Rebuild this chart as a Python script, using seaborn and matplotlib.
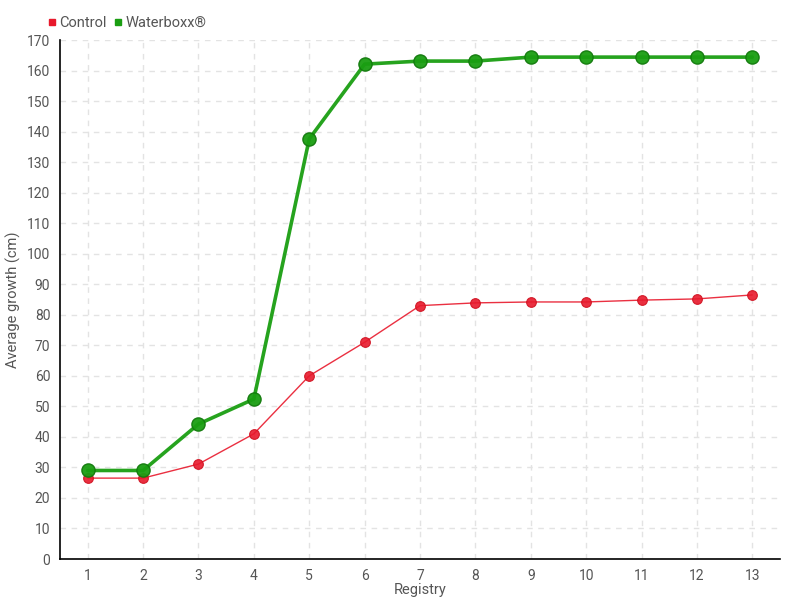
import seaborn as sns
import pandas as pd
import matplotlib.pyplot as plt
from matplotlib.lines import Line2D

registry = list(range(1, 14))
control = [26.5, 26.5, 31.1, 41, 60, 71, 83, 83.9, 84.2, 84.2, 84.8, 85.2, 86.5]
waterboxx = [29, 29, 44.2, 52.4, 137.6, 162.1, 163.1, 163.1, 164.4, 164.4, 164.4, 164.4, 164.4]

red = '#e8192c'
green = '#1a9e12'
text_col = '#555555'

sns.set_style("white")
plt.rcParams['font.family'] = ['Roboto', 'DejaVu Sans']

df = pd.DataFrame({'registry': registry, 'Control': control, 'Waterboxx': waterboxx})

fig = plt.figure(figsize=(8, 6), dpi=100)
ax = fig.add_axes([0.075, 0.0683, 0.9, 0.865])

sns.lineplot(x='registry', y='Control', data=df, ax=ax, color=red, linewidth=1,
             marker='o', markersize=7, markeredgecolor='#d0101f', markeredgewidth=0.8, alpha=0.9)
sns.lineplot(x='registry', y='Waterboxx', data=df, ax=ax, color=green, linewidth=2.6,
             marker='o', markersize=9.5, markeredgecolor='#137a0d', markeredgewidth=1, alpha=0.95)

ax.set_xlim(0.5, 13.5)
ax.set_ylim(0, 170)
ax.set_xticks(registry)
ax.set_yticks(range(0, 171, 10))
ax.grid(True, color='#e3e3e3', linestyle=(0, (4, 4)), linewidth=1)
for s in ['top', 'right']:
    ax.spines[s].set_visible(False)
for s in ['left', 'bottom']:
    ax.spines[s].set_color('black')
    ax.spines[s].set_linewidth(1.2)
ax.tick_params(axis='both', direction='out', length=5, width=1, colors='black',
               labelcolor=text_col, labelsize=10, pad=2)
ax.set_xlabel('Registry', color=text_col, fontsize=10.5, labelpad=0)
ax.set_ylabel('Average growth (cm)', color=text_col, fontsize=10.5)
ax.yaxis.set_label_coords(-0.054, 0.5)

handles = [Line2D([], [], linestyle='none', marker='s', markersize=5, color=red),
           Line2D([], [], linestyle='none', marker='s', markersize=5, color=green)]
fig.legend(handles, ['Control', 'Waterboxx®'], loc='upper left', bbox_to_anchor=(0.043, 0.995),
           ncol=2, frameon=False, handlelength=0.6, handletextpad=0.2, columnspacing=0.5,
           labelcolor=text_col, fontsize=10.5)

plt.savefig('out.png', dpi=100)
